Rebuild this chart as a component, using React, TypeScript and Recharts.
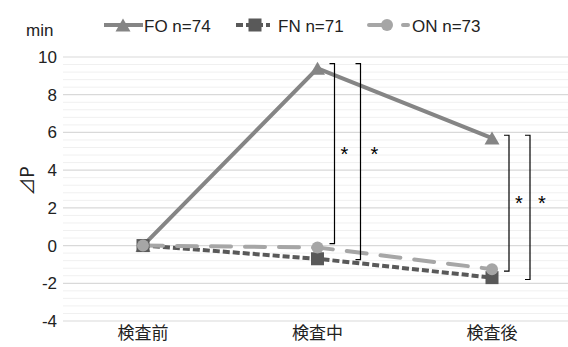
import React from 'react';
import { LineChart, Line, XAxis, YAxis, CartesianGrid, ReferenceLine } from 'recharts';

// categories and series values (minutes)
const categories = ['検査前', '検査中', '検査後'];
const foValues = [0, 9.4, 5.7];
const fnValues = [0, -0.7, -1.7];
const onValues = [0, -0.1, -1.25];
const seriesNames = ['FO n=74', 'FN n=71', 'ON n=73'];

const yTicks = [-4, -2, 0, 2, 4, 6, 8, 10];

// significance brackets
const bracketCats = ['検査中', '検査中', '検査後', '検査後'];
const bracketTops = [9.65, 9.65, 5.85, 5.85];
const bracketBottoms = [0.1, -0.75, -1.35, -1.8];
const starLevels = [5.1, 5.1, 2.5, 2.5];
const sigMarks = ['*', '*', '*', '*'];

const data = categories.map((cat, i) => ({
  cat,
  FO: foValues[i],
  FN: fnValues[i],
  ON: onValues[i],
}));

// minor gridlines every 0.4 between the major ticks
const minorLines: number[] = [];
for (let k = 1; k < 35; k++) {
  const v = Math.round((-4 + k * 0.4) * 10) / 10;
  if (Math.abs(v % 2) > 0.01) minorLines.push(v);
}

const FONT = "'Liberation Sans', Arial, 'Noto Sans CJK JP', sans-serif";
const TEXT = '#222';

type MarkerKind = 'triangle' | 'square' | 'circle';

const series = [
  { key: 'FO', color: '#858585', dash: undefined, cap: 'butt', marker: 'triangle' as MarkerKind },
  { key: 'FN', color: '#595959', dash: '7 3', cap: 'butt', marker: 'square' as MarkerKind },
  { key: 'ON', color: '#a6a6a6', dash: '20 14', cap: 'round', marker: 'circle' as MarkerKind },
];

// legend layout: item start, line length, marker offset, text start
const legendLayout = [
  { x: 104, len: 39, mx: 19, tx: 40 },
  { x: 236, len: 34, mx: 19, tx: 42 },
  { x: 369, len: 39, mx: 18, tx: 43 },
];

// bracket x offsets from the category position
const bracketDx = [17, 43, 17, 38];
const starDx = [10, 14, 10, 12];

function Marker({ kind, cx, cy, color }: { kind: MarkerKind; cx: number; cy: number; color: string }) {
  if (kind === 'triangle') {
    return <polygon points={`${cx - 7.5},${cy + 6.5} ${cx + 7.5},${cy + 6.5} ${cx},${cy - 6.5}`} fill={color} />;
  }
  if (kind === 'square') {
    return <rect x={cx - 6.5} y={cy - 6.5} width={13} height={13} fill={color} />;
  }
  return <circle cx={cx} cy={cy} r={6} fill={color} />;
}

function ChartLegend() {
  return (
    <svg width={568} height={45} style={{ position: 'absolute', left: 0, top: 0 }}>
      {series.map((s, i) => {
        const l = legendLayout[i];
        return (
          <g key={s.key}>
            <line
              x1={l.x}
              x2={l.x + l.len}
              y1={25}
              y2={25}
              stroke={s.color}
              strokeWidth={4}
              strokeDasharray={s.dash}
              strokeLinecap={s.cap as any}
            />
            <Marker kind={s.marker} cx={l.x + l.mx} cy={25} color={s.color} />
            <text x={l.x + l.tx} y={31.5} fontSize={17} fill={TEXT} fontFamily={FONT}>
              {seriesNames[i]}
            </text>
          </g>
        );
      })}
    </svg>
  );
}

function makeBracket(i: number) {
  return (props: any) => {
    const { x1, y1, y2 } = props;
    const x = x1 + bracketDx[i];
    const starY = y1 + ((y2 - y1) * (bracketTops[i] - starLevels[i])) / (bracketTops[i] - bracketBottoms[i]);
    return (
      <g>
        <path d={`M${x - 5},${y1} H${x} V${y2} H${x - 5}`} fill="none" stroke="#000" strokeWidth={1.2} />
        <text x={x + starDx[i]} y={starY + 11.5} textAnchor="middle" fontSize={20} fill="#000" fontFamily={FONT}>
          {sigMarks[i]}
        </text>
      </g>
    );
  };
}

// place minor grid rows through the y scale
const minorRows = ({ yAxis }: any) => {
  const scale = yAxis?.scale;
  if (!scale) return [];
  const map = typeof scale === 'function' ? scale : scale.map;
  return minorLines.map((v) => map(v));
};

export default function App() {
  return (
    <div style={{ position: 'absolute', left: 0, top: 0, width: 568, height: 347, background: '#fff', fontFamily: FONT }}>
      <LineChart width={568} height={347} data={data} margin={{ top: 57, right: 0, bottom: 0, left: 0 }}>
        <CartesianGrid vertical={false} horizontalCoordinatesGenerator={minorRows} stroke="#f0f0f0" strokeWidth={1} />
        <CartesianGrid vertical={false} stroke="#d9d9d9" strokeWidth={1.2} />
        <XAxis
          dataKey="cat"
          axisLine={false}
          tickLine={false}
          tickMargin={0}
          height={26}
          padding={{ left: 80, right: 76 }}
          tick={{ fontSize: 17, fill: TEXT, fontFamily: FONT }}
        />
        <YAxis
          domain={[-4, 10]}
          ticks={yTicks}
          axisLine={false}
          tickLine={false}
          tickMargin={0}
          width={63}
          tick={{ fontSize: 17, fill: TEXT, fontFamily: FONT }}
          label={{
            content: () => (
              <text
                x={26}
                y={181}
                transform="rotate(-90 26 181)"
                textAnchor="middle"
                dominantBaseline="central"
                fontSize={18}
                fill={TEXT}
                fontFamily="'Noto Sans CJK JP', sans-serif"
              >
                ⊿P
              </text>
            ),
          }}
        />
        {series.map((s) => (
          <Line
            key={s.key}
            dataKey={s.key}
            stroke={s.color}
            strokeWidth={4}
            strokeDasharray={s.dash}
            strokeLinecap={s.cap as any}
            isAnimationActive={false}
            activeDot={false}
            dot={(p: any) => <Marker key={`${s.key}-${p.index}`} kind={s.marker} cx={p.cx} cy={p.cy} color={s.color} />}
          />
        ))}
        {bracketCats.map((cat, i) => (
          <ReferenceLine
            key={`br-${i}`}
            segment={[
              { x: cat, y: bracketTops[i] },
              { x: cat, y: bracketBottoms[i] },
            ]}
            ifOverflow="visible"
            shape={makeBracket(i)}
          />
        ))}
      </LineChart>
      <ChartLegend />
      <div style={{ position: 'absolute', left: 26, top: 21, fontSize: 17, color: TEXT, fontFamily: FONT }}>min</div>
    </div>
  );
}
